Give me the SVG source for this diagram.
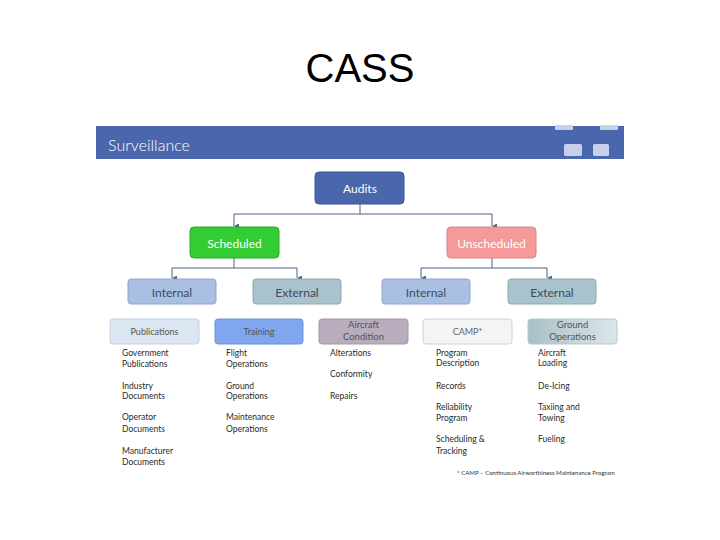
<svg xmlns="http://www.w3.org/2000/svg" width="720" height="540" viewBox="0 0 720 540">
<defs>
<marker id="arr" viewBox="0 0 6 6" refX="3" refY="6" markerWidth="5" markerHeight="5" orient="auto-start-reverse" markerUnits="userSpaceOnUse">
<path d="M0,0 L6,0 L3,6 z" fill="#4F5F85"/>
</marker>
<linearGradient id="gg" x1="0" y1="0" x2="1" y2="0">
<stop offset="0" stop-color="#A9BFC6"/>
<stop offset="1" stop-color="#DCE6EA"/>
</linearGradient>
</defs>
<style>
.t{font-family:Lato,"Open Sans","Liberation Sans",sans-serif}
.lbl{font-size:12px;text-anchor:middle;dominant-baseline:central}
.cat{font-size:9px;text-anchor:middle;dominant-baseline:central}
.item{font-size:8.5px;fill:#2a2a2a}
.conn{fill:none;stroke:#4F5F85;stroke-width:1}
</style>
<rect width="720" height="540" fill="#FFFFFF"/>
<text x="360" y="82" font-family="Liberation Sans, Arial, sans-serif" font-size="40" text-anchor="middle" fill="#000">CASS</text>

<g id="header">
<rect x="96" y="126" width="528" height="33" fill="#4A66AC"/>
<text class="t" x="108" y="144" font-size="16" font-weight="300" fill="#FFFFFF" dominant-baseline="central">Surveillance</text>
<rect x="555" y="125" width="18" height="5" rx="1" fill="#C7D0E8"/>
<rect x="600" y="125" width="18" height="5" rx="1" fill="#C7D0E8"/>
<rect x="564" y="144" width="18" height="12" rx="1.5" fill="#C7D0E8"/>
<rect x="593" y="144" width="16" height="12" rx="1.5" fill="#C7D0E8"/>
</g>

<g id="connectors">
<path class="conn" d="M360,204 V214 M234,214 H492" />
<path class="conn" d="M234,214 V226" marker-end="url(#arr)"/>
<path class="conn" d="M492,214 V226" marker-end="url(#arr)"/>
<path class="conn" d="M234,258 V268 M172,268 H297"/>
<path class="conn" d="M172,268 V278" marker-end="url(#arr)"/>
<path class="conn" d="M297,268 V278" marker-end="url(#arr)"/>
<path class="conn" d="M492,258 V268 M421,268 H547"/>
<path class="conn" d="M421,268 V278" marker-end="url(#arr)"/>
<path class="conn" d="M547,268 V278" marker-end="url(#arr)"/>
</g>

<g id="audits">
<rect x="315" y="172" width="89" height="32" rx="4" fill="#4A66AC" stroke="#3D5690"/>
<text class="t lbl" x="360" y="188" fill="#FFFFFF">Audits</text>
</g>
<g id="scheduled">
<rect x="190" y="227" width="89" height="31" rx="4" fill="#33CC33" stroke="#2BAA2B"/>
<text class="t lbl" x="234.5" y="243" fill="#FFFFFF">Scheduled</text>
</g>
<g id="unscheduled">
<rect x="447" y="227" width="89" height="31" rx="4" fill="#F59A9B" stroke="#D98283"/>
<text class="t lbl" x="491.5" y="243" fill="#FFFFFF">Unscheduled</text>
</g>

<g id="internal-1">
<rect x="128" y="279" width="88" height="25" rx="3" fill="#A9C0E2" stroke="#8FA6C9"/>
<text class="t lbl" x="172" y="292" fill="#3E4A5E">Internal</text>
</g>
<g id="external-1">
<rect x="253" y="279" width="88" height="25" rx="3" fill="#A8C3CB" stroke="#8EA8B0"/>
<text class="t lbl" x="297" y="292" fill="#3E4A5E">External</text>
</g>
<g id="internal-2">
<rect x="382" y="279" width="88" height="25" rx="3" fill="#A9C0E2" stroke="#8FA6C9"/>
<text class="t lbl" x="426" y="292" fill="#3E4A5E">Internal</text>
</g>
<g id="external-2">
<rect x="508" y="279" width="88" height="25" rx="3" fill="#A8C3CB" stroke="#8EA8B0"/>
<text class="t lbl" x="552" y="292" fill="#3E4A5E">External</text>
</g>

<g id="publications">
<rect x="110" y="319" width="89" height="25" rx="3" fill="#DCE5F2" stroke="#C5D0E0"/>
<text class="t cat" x="154.5" y="331.5" fill="#555">Publications</text>
<text class="t item" x="122" y="356">Government</text>
<text class="t item" x="122" y="367">Publications</text>
<text class="t item" x="122" y="389">Industry</text>
<text class="t item" x="122" y="399">Documents</text>
<text class="t item" x="122" y="420">Operator</text>
<text class="t item" x="122" y="432">Documents</text>
<text class="t item" x="122" y="454">Manufacturer</text>
<text class="t item" x="122" y="465">Documents</text>
</g>
<g id="training">
<rect x="215" y="319" width="88" height="25" rx="3" fill="#7FA6EE" stroke="#6E93D6"/>
<text class="t cat" x="259" y="331.5" fill="#555">Training</text>
<text class="t item" x="226" y="356">Flight</text>
<text class="t item" x="226" y="367">Operations</text>
<text class="t item" x="226" y="389">Ground</text>
<text class="t item" x="226" y="399">Operations</text>
<text class="t item" x="226" y="420">Maintenance</text>
<text class="t item" x="226" y="432">Operations</text>
</g>
<g id="aircraft-condition">
<rect x="319" y="319" width="89" height="25" rx="3" fill="#B7ADBC" stroke="#A398A8"/>
<text class="t" x="363.5" y="328" font-size="9.5" fill="#555" text-anchor="middle">Aircraft</text>
<text class="t" x="363.5" y="340" font-size="9.5" fill="#555" text-anchor="middle">Condition</text>
<text class="t item" x="330" y="356">Alterations</text>
<text class="t item" x="330" y="377">Conformity</text>
<text class="t item" x="330" y="399">Repairs</text>
</g>
<g id="camp">
<rect x="423" y="319" width="89" height="25" rx="3" fill="#F4F4F4" stroke="#D0D0D0"/>
<text class="t cat" x="467.5" y="331.5" fill="#666">CAMP*</text>
<text class="t item" x="436" y="356">Program</text>
<text class="t item" x="436" y="366">Description</text>
<text class="t item" x="436" y="389">Records</text>
<text class="t item" x="436" y="410">Reliability</text>
<text class="t item" x="436" y="421">Program</text>
<text class="t item" x="436" y="442">Scheduling &amp;</text>
<text class="t item" x="436" y="454">Tracking</text>
</g>
<g id="ground-operations">
<rect x="528" y="319" width="89" height="25" rx="3" fill="url(#gg)" stroke="#B8C8CD"/>
<text class="t" x="572.5" y="328" font-size="9.5" fill="#555" text-anchor="middle">Ground</text>
<text class="t" x="572.5" y="340" font-size="9.5" fill="#555" text-anchor="middle">Operations</text>
<text class="t item" x="538" y="356">Aircraft</text>
<text class="t item" x="538" y="366">Loading</text>
<text class="t item" x="538" y="389">De-Icing</text>
<text class="t item" x="538" y="410">Taxiing and</text>
<text class="t item" x="538" y="421">Towing</text>
<text class="t item" x="538" y="442">Fueling</text>
</g>
<text class="t" x="457" y="475" font-size="6.1" fill="#333">* CAMP – Continuous Airworthiness Maintenance Program</text>
</svg>
